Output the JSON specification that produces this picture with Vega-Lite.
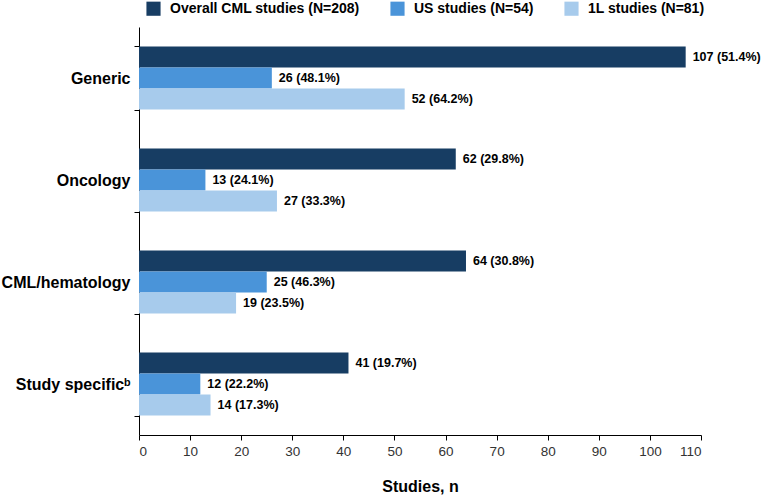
{
  "$schema": "https://vega.github.io/schema/vega-lite/v6.json",
  "width": 562,
  "height": 408,
  "autosize": "none",
  "padding": {"left": 139, "top": 27, "right": 61, "bottom": 63},
  "background": "white",
  "config": {
    "font": "Liberation Sans",
    "view": {"stroke": null}
  },
  "data": {
    "values": [
      {"cat": "Generic", "series": "Overall CML studies (N=208)", "n": 107, "label": "107 (51.4%)"},
      {"cat": "Generic", "series": "US studies (N=54)", "n": 26, "label": "26 (48.1%)"},
      {"cat": "Generic", "series": "1L studies (N=81)", "n": 52, "label": "52 (64.2%)"},
      {"cat": "Oncology", "series": "Overall CML studies (N=208)", "n": 62, "label": "62 (29.8%)"},
      {"cat": "Oncology", "series": "US studies (N=54)", "n": 13, "label": "13 (24.1%)"},
      {"cat": "Oncology", "series": "1L studies (N=81)", "n": 27, "label": "27 (33.3%)"},
      {"cat": "CML/hematology", "series": "Overall CML studies (N=208)", "n": 64, "label": "64 (30.8%)"},
      {"cat": "CML/hematology", "series": "US studies (N=54)", "n": 25, "label": "25 (46.3%)"},
      {"cat": "CML/hematology", "series": "1L studies (N=81)", "n": 19, "label": "19 (23.5%)"},
      {"cat": "Study specificᵇ", "series": "Overall CML studies (N=208)", "n": 41, "label": "41 (19.7%)"},
      {"cat": "Study specificᵇ", "series": "US studies (N=54)", "n": 12, "label": "12 (22.2%)"},
      {"cat": "Study specificᵇ", "series": "1L studies (N=81)", "n": 14, "label": "14 (17.3%)"}
    ]
  },
  "encoding": {
    "y": {
      "field": "cat",
      "type": "nominal",
      "sort": ["Generic", "Oncology", "CML/hematology", "Study specificᵇ"],
      "scale": {"paddingInner": 0.38, "paddingOuter": 0.19},
      "axis": {
        "title": null,
        "tickBand": "extent",
        "domainColor": "#000000",
        "tickColor": "#000000",
        "tickSize": 5,
        "labelFontSize": 16,
        "labelFontWeight": "bold",
        "labelColor": "#000000",
        "labelPadding": 4,
        "labelLimit": 300
      }
    },
    "yOffset": {
      "field": "series",
      "type": "nominal",
      "sort": ["Overall CML studies (N=208)", "US studies (N=54)", "1L studies (N=81)"],
      "scale": {"paddingInner": 0, "paddingOuter": 0}
    },
    "x": {
      "field": "n",
      "type": "quantitative",
      "scale": {"domain": [0, 110], "nice": false},
      "axis": {
        "title": "Studies, n",
        "titleFontSize": 16,
        "titleFontWeight": "bold",
        "titleColor": "#000000",
        "titlePadding": 21,
        "values": [0, 10, 20, 30, 40, 50, 60, 70, 80, 90, 100, 110],
        "grid": false,
        "domainColor": "#000000",
        "tickColor": "#000000",
        "tickSize": 5,
        "labelFontSize": 13.5,
        "labelColor": "#333333",
        "labelPadding": 4
      }
    }
  },
  "layer": [
    {
      "mark": {"type": "bar"},
      "encoding": {
        "color": {
          "field": "series",
          "type": "nominal",
          "sort": ["Overall CML studies (N=208)", "US studies (N=54)", "1L studies (N=81)"],
          "scale": {
            "domain": ["Overall CML studies (N=208)", "US studies (N=54)", "1L studies (N=81)"],
            "range": ["#173d63", "#4a94d9", "#a7cbec"]
          },
          "legend": {
            "title": null,
            "orient": "none",
            "direction": "horizontal",
            "legendX": 7,
            "legendY": -26,
            "symbolType": "square",
            "symbolSize": 200,
            "symbolStrokeWidth": 0,
            "labelFontSize": 14,
            "labelFontWeight": "bold",
            "labelColor": "#000000",
            "columnPadding": 30,
            "labelOffset": 9,
            "labelLimit": 300
          }
        }
      }
    },
    {
      "mark": {"type": "text", "align": "left", "baseline": "middle", "dx": 7, "fontSize": 12.5, "fontWeight": "bold", "color": "#000000"},
      "encoding": {
        "text": {"field": "label", "type": "nominal"}
      }
    }
  ]
}
